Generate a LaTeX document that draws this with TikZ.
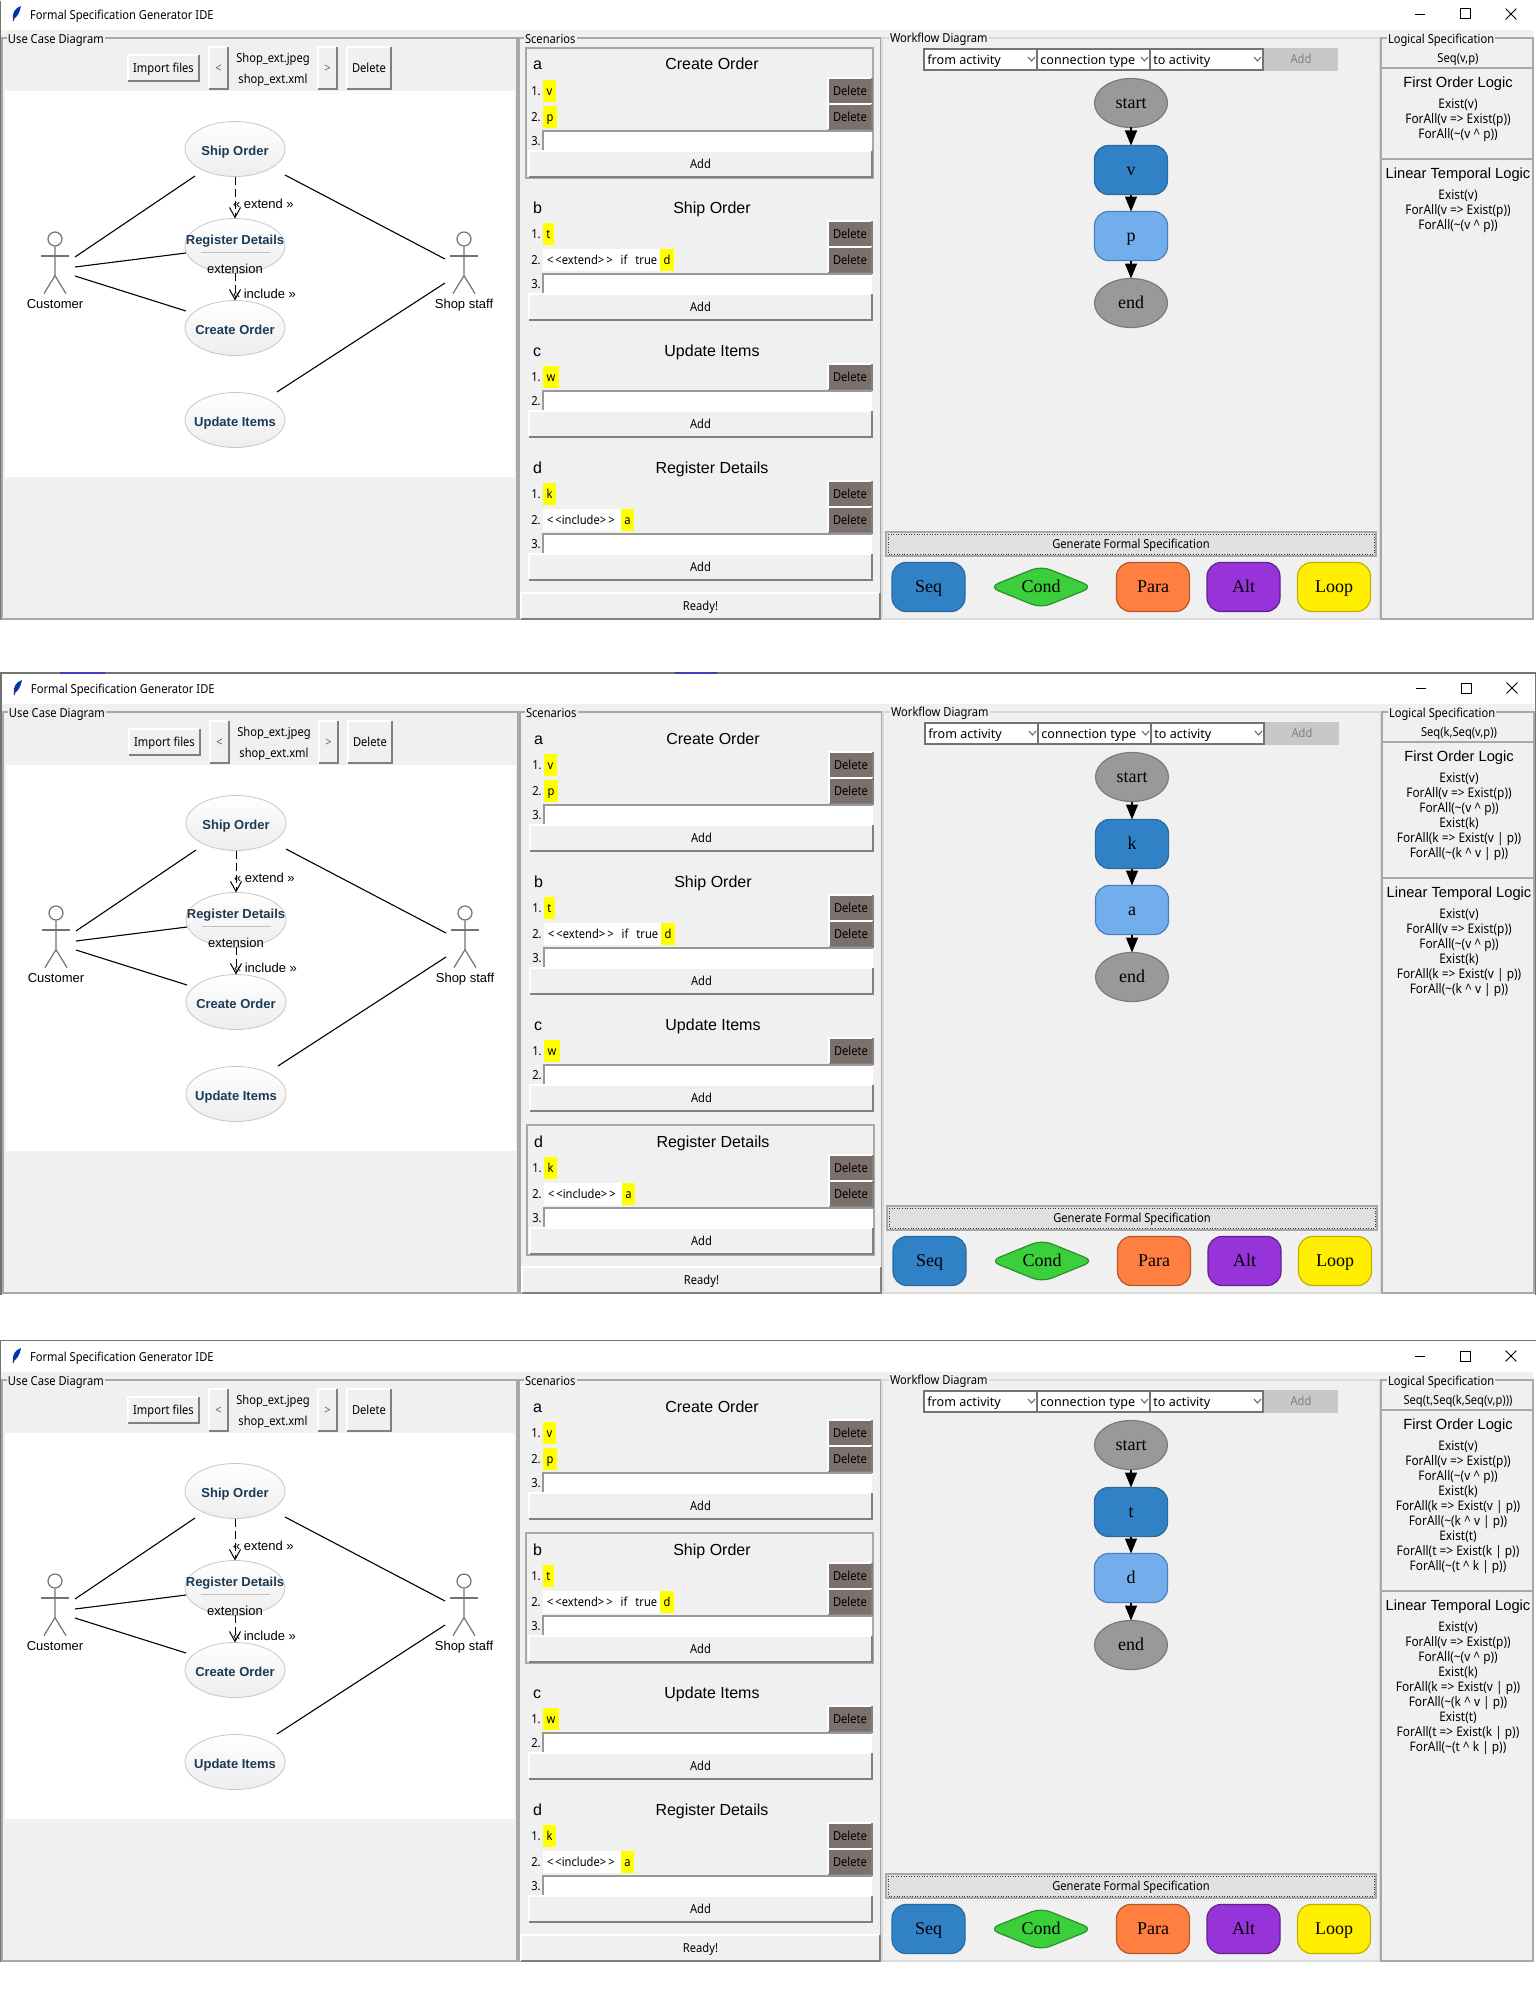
\documentclass[tikz,border=0pt]{standalone}
\usepackage{fontspec}
\setmainfont{Noto Sans}
\newfontfamily\narrowf[FakeStretch=0.9]{Noto Sans}
\newfontfamily\arialf{Liberation Sans}
\newfontfamily\timesf{Liberation Serif}
\usetikzlibrary{shapes.geometric,arrows.meta}
\definecolor{panelc}{HTML}{F0F0F0}
\definecolor{framec}{HTML}{A8A8A8}
\definecolor{framelt}{HTML}{DADADA}
\definecolor{delc}{HTML}{7C706C}
\definecolor{navyc}{HTML}{1A3A55}
\definecolor{yel}{HTML}{FFFF00}
\definecolor{seqc}{HTML}{3181C6}
\definecolor{seqd}{HTML}{2A6A9E}
\definecolor{lbluec}{HTML}{72AEEC}
\definecolor{lblued}{HTML}{4C80BC}
\definecolor{grayn}{HTML}{999999}
\definecolor{grayd}{HTML}{7A7A7A}
\definecolor{condc}{HTML}{3BCF3B}
\definecolor{paraC}{HTML}{FF7F40}
\definecolor{altc}{HTML}{9633D9}
\definecolor{loopc}{HTML}{FFEE00}
\definecolor{genc}{HTML}{E1E1E1}
\definecolor{addoff}{HTML}{C8C8C8}
\newcommand\fui{\narrowf\fontsize{6.2}{7.5}\selectfont}
\newcommand\fcb{\fontsize{6.3}{7.5}\selectfont}
\newcommand\fsm{\narrowf\fontsize{6.6}{7.5}\selectfont}
\newcommand\fuc{\arialf\fontsize{6.5}{7.5}\selectfont}
\newcommand\fttl{\arialf\fontsize{8}{9.5}\selectfont}
\newcommand\flog{\arialf\fontsize{7.35}{9}\selectfont}
\newcommand\fwf{\timesf\fontsize{9}{10.5}\selectfont}
\tikzset{
  x=0.5pt,y=-0.5pt,line width=0.5pt,
  uibase/.style={text height=5.6pt,text depth=1.3pt},
  uitext/.style={uibase,inner sep=0pt,outer sep=0pt,font=\fui,text=black},
  ttltext/.style={inner sep=0pt,outer sep=0pt,font=\fttl,text height=6.5pt,text depth=0.5pt},
  uctext/.style={inner sep=0pt,outer sep=0pt,font=\fuc,text height=6pt,text depth=0.7pt},
  logttl/.style={inner sep=0pt,outer sep=0pt,font=\flog,text height=6pt,text depth=0.7pt},
  ucase/.style={ellipse,draw=black!22,top color=white,bottom color=black!7,minimum width=50pt,minimum height=27.5pt,inner sep=0pt,outer sep=0pt},
  uctitle/.style={uctext,font=\fuc\bfseries,text=navyc},
  assoc/.style={line width=0.55pt,black},
  dep/.style={line width=0.5pt,black,dash pattern=on 4pt off 2pt,-{Straight Barb[width=5.5pt,length=5pt]}},
  actor/.style={line width=0.6pt,black!55},
  flow/.style={line width=0.6pt,black,-{Triangle[width=6pt,length=7.5pt]}},
  wfnode/.style={inner sep=0pt,outer sep=0pt,font=\fwf,line width=0.6pt,minimum width=36.5pt,minimum height=24.5pt,text height=7pt,text depth=1.6pt},
  wfround/.style={wfnode,rectangle,rounded corners=7pt},
  wfell/.style={wfnode,ellipse,fill=grayn,draw=grayd},
  panelframe/.style={draw=framec,line width=0.55pt},
  lbl/.style={uibase,fill=panelc,inner sep=0.5pt,outer sep=0pt,font=\fui,anchor=west},
}
% box node by its edges: name, x1,y1,x2,y2, style, text
\newcommand\bx[7]{\node[rectangle,inner sep=0pt,outer sep=0pt,minimum width={(#4-#2)*0.5pt},minimum height={(#5-#3)*0.5pt},font=\fui,uibase,#6] (#1) at ({(#2+#4)/2},{(#3+#5)/2}) {#7};}
% raised button
\newcommand\btn[7]{\bx{#1}{#2}{#3}{#4}{#5}{fill=panelc,#6}{#7}
  \draw[white,line width=0.8pt] (#1.south west) -- (#1.north west) -- (#1.north east);
  \draw[black!50,line width=0.8pt] (#1.south west) -- (#1.south east) -- (#1.north east);}
\newcommand\delb[2]{\btn{#1}{828}{\numexpr#2-13\relax}{872}{\numexpr#2+13\relax}{fill=delc}{Delete}}
\newcommand\rowy[5]{% name,y,num,xr,text
  \node[uitext] (#1-n) at (536,#2) {#3.};
  \bx{#1-y}{543}{\numexpr#2-11\relax}{#4}{\numexpr#2+11\relax}{fill=yel}{#5}
  \delb{#1-del}{#2}}
\newcommand\entry[3]{% name,y,num
  \node[uitext] (#1-n) at (536,#2+10) {#3.};
  \bx{#1-e}{543}{#2}{872}{\numexpr#2+19\relax}{fill=white}{}
  \draw[black!40,line width=0.55pt] (#1-e.south west) -- (#1-e.north west) -- (#1-e.north east);}
\newcommand\addb[2]{\btn{#1}{529}{#2}{872}{\numexpr#2+26\relax}{}{Add}}
\newcommand\sechead[4]{% name,y,letter,title
  \node[ttltext,anchor=west] (#1-l) at (533,#2) {#3};
  \node[ttltext] (#1-t) at (712,#2) {#4};}
\newcommand\combo[4]{% name,x1,x2,text
  \bx{#1}{#2}{49}{#3}{70}{fill=white,draw=black!55,line width=0.55pt}{}
  \node[uibase,inner sep=0pt,font=\fcb,anchor=west] (#1-t) at (#2+3,60) {#4};
  \draw[black!60,line width=0.5pt] (#3-9,57) -- (#3-5.5,61) -- (#3-2,57);}
\newcommand\wfbtn[6]{\node[wfround,fill=#4,draw=#5] (#1) at ({(#2+#3)/2},587) {#6};}
% Window: prefix, dx, dy, seq, wf1, wf2, frame y, lines count
\newcommand\win[8]{%
\begin{scope}[shift={(#2,#3)}]
  % backgrounds
  \fill[panelc] (1,30) rectangle (1533,620);
  \node[anchor=west,uitext] (#1-title) at (30,15) {Formal Specification Generator IDE};
  \fill[blue!60!black!80!cyan] (21,6) .. controls (15,8) and (12,13) .. (13,19) .. controls (17,18) and (20,12) .. (21,6);
  \draw[black!80,line width=0.5pt] (15,16) -- (13,21);
  \node[inner sep=0pt,minimum width=5pt,minimum height=0.6pt,fill=black] (#1-min) at (1420,14.5) {};
  \node[inner sep=0pt,minimum width=5pt,minimum height=5pt,draw=black,line width=0.5pt] (#1-max) at (1465,14) {};
  \node[inner sep=0pt,minimum size=5pt] (#1-close) at (1511,14) {};
  \draw[black,line width=0.45pt] (#1-close.south west) -- (#1-close.north east) (#1-close.north west) -- (#1-close.south east);
  % frames
  \draw[panelframe] (2,38) rectangle (517,619);
  \draw[panelframe] (519,38) rectangle (881,619);
  \draw[draw=framelt,line width=0.6pt] (882,38) rectangle (1380,619);
  \draw[panelframe] (1381,38) -- (1533,38) -- (1533,619) -- (1381,619) -- cycle;
  \node[lbl] (#1-lf1) at (7,39) {Use Case Diagram};
  \node[lbl] (#1-lf2) at (524,39) {Scenarios};
  \node[lbl] (#1-lf3) at (889,38.5) {Workflow Diagram};
  \node[lbl] (#1-lf4) at (1387,39.5) {Logical Specification};
  % use case toolbar
  \btn{#1-imp}{128}{55}{199}{81}{}{Import files}
  \btn{#1-prev}{209}{47}{228}{89}{text=black!60}{<}
  \node[uitext] (#1-f1) at (273,58) {Shop\_ext.jpeg};
  \node[uitext] (#1-f2) at (273,79) {shop\_ext.xml};
  \btn{#1-next}{318}{47}{337}{89}{text=black!60}{>}
  \btn{#1-del}{347}{47}{391}{89}{}{Delete}
  \fill[white] (5,91) rectangle (515,477);
  % use cases
  \node[ucase] (#1-ship) at (235,149) {};
  \node[uctitle] (#1-shipt) at (235,150) {Ship Order};
  \node[ucase] (#1-reg) at (235,246) {};
  \node[uctitle] (#1-regt) at (235,239.5) {Register Details};
  \draw[black!25,line width=0.4pt] (201,252.5) -- (270,252.5);
  \node[uctext] (#1-ext) at (235,268) {extension};
  \node[ucase] (#1-cre) at (235,328) {};
  \node[uctitle] (#1-cret) at (235,329) {Create Order};
  \node[ucase] (#1-upd) at (235,420) {};
  \node[uctitle] (#1-updt) at (235,421.5) {Update Items};
  % actors
  \node[circle,draw=black!55,line width=0.6pt,inner sep=0pt,minimum size=7pt] (#1-chead) at (55,239) {};
  \draw[actor] (#1-chead.south) -- ++(0,29) coordinate (#1-chip) -- ++(-11,18);
  \draw[actor] (#1-chip) -- ++(11,18);
  \draw[actor] (41,256) -- (69,256);
  \node[uctext] (#1-cust) at (55,303) {Customer};
  \node[circle,draw=black!55,line width=0.6pt,inner sep=0pt,minimum size=7pt] (#1-shead) at (464,239) {};
  \draw[actor] (#1-shead.south) -- ++(0,29) coordinate (#1-ship2) -- ++(-11,18);
  \draw[actor] (#1-ship2) -- ++(11,18);
  \draw[actor] (450,256) -- (478,256);
  \node[uctext] (#1-staff) at (464,303) {Shop staff};
  % associations
  \coordinate (#1-c1) at (75,257); \coordinate (#1-c2) at (75,267); \coordinate (#1-c3) at (75,276);
  \coordinate (#1-s1) at (445,259); \coordinate (#1-s2) at (445,283);
  \coordinate (#1-e1) at (195,176); \coordinate (#1-e2) at (186,253); \coordinate (#1-e3) at (186,311);
  \coordinate (#1-e4) at (285,175); \coordinate (#1-e5) at (277,392);
  \draw[assoc] (#1-c1) -- (#1-e1);
  \draw[assoc] (#1-c2) -- (#1-e2);
  \draw[assoc] (#1-c3) -- (#1-e3);
  \draw[assoc] (#1-s1) -- (#1-e4);
  \draw[assoc] (#1-s2) -- (#1-e5);
  \draw[dep] (#1-ship.south) -- (#1-reg.north);
  \coordinate (#1-regb) at (235,273);
  \draw[dep] (#1-regb) -- (#1-cre.north);
  \node[uctext,anchor=west] (#1-lext) at (233,203) {« extend »};
  \node[uctext,anchor=west] (#1-linc) at (233,293) {« include »};
  % scenarios
  \draw[framec,line width=0.7pt] (526,#7) rectangle (873,\numexpr#7+130\relax);
  \sechead{#1-a}{64}{a}{Create Order}
  \rowy{#1-a1}{91}{1}{556}{v}
  \rowy{#1-a2}{117}{2}{557}{p}
  \entry{#1-a3}{131}{3}
  \addb{#1-aadd}{151}
  \sechead{#1-b}{207}{b}{Ship Order}
  \rowy{#1-b1}{234}{1}{554}{t}
  \node[uitext] (#1-b2n) at (536,260) {2.};
  \bx{#1-b2w}{543}{249}{660}{271}{fill=white}{}
  \node[uitext,anchor=west] (#1-b2t) at (547,260) {<\,<extend>\,>\hspace{4pt}if\hspace{4pt}true};
  \bx{#1-b2y}{660}{249}{674}{271}{fill=yel}{d}
  \delb{#1-b2del}{260}
  \entry{#1-b3}{274}{3}
  \addb{#1-badd}{294}
  \sechead{#1-c}{350}{c}{Update Items}
  \rowy{#1-c1r}{377}{1}{559}{w}
  \entry{#1-c2r}{391}{2}
  \addb{#1-cadd}{411}
  \sechead{#1-d}{467}{d}{Register Details}
  \rowy{#1-d1}{494}{1}{556}{k}
  \node[uitext] (#1-d2n) at (536,520) {2.};
  \bx{#1-d2w}{543}{509}{621}{531}{fill=white}{}
  \node[uitext,anchor=west] (#1-d2t) at (547,520) {<\,<include>\,>};
  \bx{#1-d2y}{621}{509}{634}{531}{fill=yel}{a}
  \delb{#1-d2del}{520}
  \entry{#1-d3}{534}{3}
  \addb{#1-dadd}{554}
  \btn{#1-ready}{521}{593}{880}{619}{}{Ready!}
  % workflow
  \combo{#1-cb1}{924}{1037}{from activity}
  \combo{#1-cb2}{1037}{1150}{connection type}
  \combo{#1-cb3}{1150}{1263}{to activity}
  \bx{#1-wadd}{1264}{48}{1338}{71}{fill=addoff,text=black!50}{Add}
  \node[wfell] (#1-start) at (1131,103) {start};
  \node[wfround,fill=seqc,draw=seqd] (#1-w1) at (1131,170) {#5};
  \node[wfround,fill=lbluec,draw=lblued] (#1-w2) at (1131,236) {#6};
  \node[wfell] (#1-end) at (1131,303) {end};
  \draw[flow] (#1-start) -- (#1-w1);
  \draw[flow] (#1-w1) -- (#1-w2);
  \draw[flow] (#1-w2) -- (#1-end);
  \bx{#1-gen}{886}{532}{1376}{556}{fill=genc,draw=framec,line width=0.7pt}{Generate Formal Specification}
  \draw[black!80,line width=0.3pt,densely dotted] (888,534) rectangle (1374,554);
  \wfbtn{#1-seq}{892}{965}{seqc}{seqd}{Seq}
  \node[wfnode,diamond,aspect=2.4,fill=condc,draw=condc!70!black,rounded corners=5pt,minimum width=52pt,minimum height=21pt] (#1-cond) at (1041,587) {Cond};
  \wfbtn{#1-para}{1117}{1189}{paraC}{paraC!70!black}{Para}
  \wfbtn{#1-alt}{1207}{1280}{altc}{altc!65!black}{Alt}
  \wfbtn{#1-loop}{1298}{1370}{loopc}{loopc!75!black}{Loop}
  % logic
  \node[uitext] (#1-seqf) at (1458,58) {#4};
  \pgfmathsetmacro\sepy{104+#8*15+10}
  \draw[framec,line width=0.55pt] (1382,68) -- (1533,68);
  \draw[framec,line width=0.55pt] (1382,\sepy) -- (1533,\sepy);
  \node[logttl] (#1-fol) at (1458,82) {First Order Logic};
  \node[font=\fsm,inner sep=0pt,anchor=north,align=center] (#1-folt) at (1458,98) {\loglines};
  \node[logttl] (#1-ltl) at (1458,\sepy+14) {Linear Temporal Logic};
  \node[font=\fsm,inner sep=0pt,anchor=north,align=center] (#1-ltlt) at (1458,\sepy+30) {\loglines};
\end{scope}}
\newcommand\LAa{Exist(v)\\ForAll(v => Exist(p))\\ForAll(\textasciitilde(v \textasciicircum{} p))}
\newcommand\LAb{\\Exist(k)\\ForAll(k => Exist(v | p))\\ForAll(\textasciitilde(k \textasciicircum{} v | p))}
\newcommand\LAc{\\Exist(t)\\ForAll(t => Exist(k | p))\\ForAll(\textasciitilde(t \textasciicircum{} k | p))}
\begin{document}
\begin{tikzpicture}
\useasboundingbox (0,0) rectangle (1536,1996);
\fill[white] (0,0) rectangle (1536,1996);
% screen edges between the windows
\draw[black!55,line width=0.7pt] (0,1) -- (0,620);
\draw[black!55,line width=0.8pt] (0,673) -- (1536,673);
\fill[blue!50!gray] (60,672) rectangle (105,673.5);
\fill[blue!50!gray] (675,672) rectangle (717,673.5);
\draw[black!55,line width=0.8pt] (1,673) -- (1,1295);
\draw[black!55,line width=0.8pt] (1535.5,673) -- (1535.5,1295);
\draw[black!55,line width=0.8pt] (0,1340.5) -- (1536,1340.5);
\draw[black!55,line width=0.7pt] (0,1341) -- (0,1962);
\def\loglines{\LAa}
\win{wa}{0}{0}{Seq(v,p)}{v}{p}{48}{3}
\def\loglines{\LAa\LAb}
\win{wb}{1}{674}{Seq(k,Seq(v,p))}{k}{a}{451}{6}
\def\loglines{\LAa\LAb\LAc}
\win{wc}{0}{1342}{Seq(t,Seq(k,Seq(v,p)))}{t}{d}{191}{9}
\end{tikzpicture}
\end{document}
